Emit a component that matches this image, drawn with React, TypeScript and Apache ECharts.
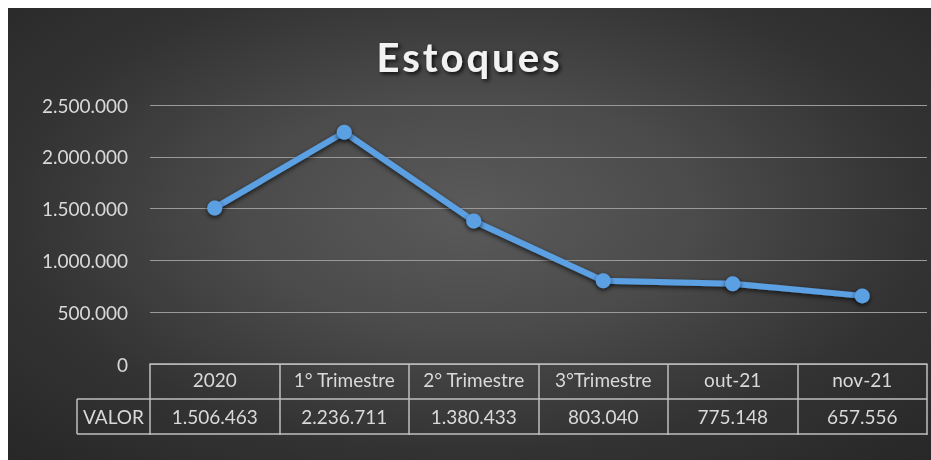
import React, { useEffect, useRef } from "react";
import * as echarts from "echarts";

const TITLE = "Estoques";
const categories = ["2020", "1° Trimestre", "2° Trimestre", "3°Trimestre", "out-21", "nov-21"];
const values = [1506463, 2236711, 1380433, 803040, 775148, 657556];
const rowLabel = "VALOR";
const yMin = 0;
const yMax = 2500000;
const yInterval = 500000;

const fmt = (v: number) => String(Math.round(v)).replace(/\B(?=(\d{3})+(?!\d))/g, ".");

const FONT = "Lato, 'Open Sans', sans-serif";
const TEXT = "#d9d9d9";
const BORDER = "#bfbfbf";

export default function App() {
  const ref = useRef<HTMLDivElement>(null);
  useEffect(() => {
    if (!ref.current) return;
    const chart = echarts.init(ref.current, null, { renderer: "svg" });
    const gridLeft = 142;
    const gridRight = 4;
    const gridTop = 97;
    const gridBottom = 96;
    const rowH = 35;
    chart.setOption({
      animation: false,
      backgroundColor: "transparent",
      title: {
        text: TITLE,
        left: "center",
        top: 24,
        padding: [5, 5, 5, 12],
        textStyle: {
          color: "#f2f2f2",
          fontFamily: FONT,
          fontWeight: "bold",
          fontSize: 40,
          textShadowColor: "rgba(0,0,0,0.85)",
          textShadowBlur: 4,
          textShadowOffsetX: 2,
          textShadowOffsetY: 2,
        },
      },
      grid: { left: gridLeft, right: gridRight, top: gridTop, bottom: gridBottom, containLabel: false },
      xAxis: {
        type: "category",
        data: categories,
        boundaryGap: true,
        axisLine: { show: true, lineStyle: { color: BORDER, width: 1.5 } },
        axisTick: { show: true, length: rowH * 2 + 1, inside: false, lineStyle: { color: BORDER, width: 1.5 } },
        axisLabel: { interval: 0, color: TEXT, fontFamily: FONT, fontSize: 19, margin: 6 },
        splitLine: { show: false },
      },
      yAxis: {
        type: "value",
        min: yMin,
        max: yMax,
        interval: yInterval,
        axisLine: { show: false },
        axisTick: { show: false },
        axisLabel: {
          color: TEXT,
          fontFamily: FONT,
          fontSize: 19,
          margin: 22,
          formatter: (v: number) => fmt(v),
        },
        splitLine: { lineStyle: { color: "#9a9a9a", width: 1.2 } },
      },
      series: [
        {
          type: "line",
          data: values,
          symbol: "circle",
          symbolSize: 15,
          lineStyle: {
            color: "#5ca0e4",
            width: 6,
            shadowColor: "rgba(0,0,0,0.7)",
            shadowBlur: 5,
            shadowOffsetY: 2,
          },
          itemStyle: {
            color: "#5ca0e4",
            shadowColor: "rgba(0,0,0,0.7)",
            shadowBlur: 5,
            shadowOffsetY: 2,
          },
          z: 5,
        },
      ],
    });

    const w = chart.getWidth();
    const y0 = chart.convertToPixel({ yAxisIndex: 0 }, yMin) as number;
    const xRight = w - gridRight;
    const tableLeft = 69;
    const y1 = y0 + rowH;
    const y2 = y0 + rowH * 2;
    const lineStyle = { stroke: BORDER, lineWidth: 1.5 };
    const graphics: any[] = [
      { type: "line", shape: { x1: tableLeft, y1: y1, x2: xRight, y2: y1 }, style: lineStyle, silent: true },
      { type: "line", shape: { x1: tableLeft, y1: y2, x2: xRight, y2: y2 }, style: lineStyle, silent: true },
      { type: "line", shape: { x1: tableLeft, y1: y1, x2: tableLeft, y2: y2 }, style: lineStyle, silent: true },
      {
        type: "text",
        x: (tableLeft + gridLeft) / 2,
        y: (y1 + y2) / 2,
        style: { text: rowLabel, fill: TEXT, font: `19px ${FONT}`, textAlign: "center", textVerticalAlign: "middle" },
        silent: true,
      },
    ];
    categories.forEach((c, i) => {
      const x = chart.convertToPixel({ xAxisIndex: 0 }, c) as number;
      graphics.push({
        type: "text",
        x,
        y: (y1 + y2) / 2,
        style: { text: fmt(values[i]), fill: TEXT, font: `19px ${FONT}`, textAlign: "center", textVerticalAlign: "middle" },
        silent: true,
      });
    });
    chart.setOption({ graphic: graphics });

    // widen the title's letter spacing like the reference
    ref.current.querySelectorAll("text").forEach((t) => {
      if (t.textContent === TITLE) {
        (t as SVGTextElement).style.letterSpacing = "3px";
      }
    });
    return () => chart.dispose();
  }, []);
  return (
    <div
      style={{
        position: "fixed",
        left: 8,
        top: 8,
        width: 923,
        height: 452,
        background:
          "radial-gradient(ellipse 70% 75% at 50% 45%, #5a5a5a 0%, #4b4b4b 35%, #333333 70%, #282828 100%)",
      }}
    >
      <div ref={ref} style={{ width: 923, height: 452 }} />
    </div>
  );
}
